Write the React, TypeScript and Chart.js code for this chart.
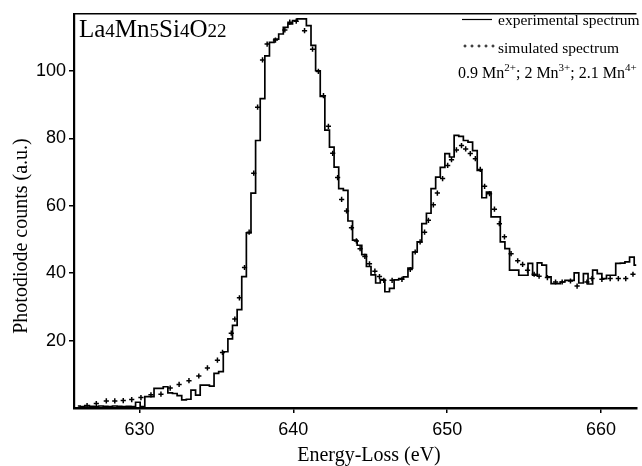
import React, { useEffect, useRef } from 'react';
import { Chart, registerables } from 'chart.js';

Chart.register(...registerables);

// Experimental spectrum: bin centres (eV) and counts
const energies = [
  626.0, 626.3, 626.6, 626.9, 627.2, 627.5, 627.8, 628.1, 628.4, 628.7,
  629.0, 629.3, 629.6, 629.9, 630.2, 630.5, 630.8, 631.1, 631.4, 631.7,
  632.0, 632.3, 632.6, 632.9, 633.2, 633.5, 633.8, 634.1, 634.4, 634.7,
  635.0, 635.3, 635.6, 635.9, 636.2, 636.5, 636.8, 637.1, 637.4, 637.7,
  638.0, 638.3, 638.6, 638.9, 639.2, 639.5, 639.8, 640.1, 640.4, 640.7,
  641.0, 641.3, 641.6, 641.9, 642.2, 642.5, 642.8, 643.1, 643.4, 643.7,
  644.0, 644.3, 644.6, 644.9, 645.2, 645.5, 645.8, 646.1, 646.4, 646.7,
  647.0, 647.3, 647.6, 647.9, 648.2, 648.5, 648.8, 649.1, 649.4, 649.7,
  650.0, 650.3, 650.6, 650.9, 651.2, 651.5, 651.8, 652.1, 652.4, 652.7,
  653.0, 653.3, 653.6, 653.9, 654.2, 654.5, 654.8, 655.1, 655.4, 655.7,
  656.0, 656.3, 656.6, 656.9, 657.2, 657.5, 657.8, 658.1, 658.4, 658.7,
  659.0, 659.3, 659.6, 659.9, 660.2, 660.5, 660.8, 661.1, 661.4, 661.7,
  662.0, 662.3,
];
const experimental = [
  0.6, 0.4, 0.7, 0.5, 0.4, 0.6, 0.5, 0.4, 0.6, 0.5,
  0.4, 0.5, 0.4, 1.7, 0.4, 3.4, 3.4, 5.8, 5.8, 6.3,
  4.5, 4.3, 3.7, 2.4, 2.6, 5.3, 3.8, 6.8, 6.8, 6.5,
  10.3, 10.8, 16.7, 20.5, 24.5, 29.2, 39.0, 52.0, 63.8, 79.4,
  91.8, 104.5, 108.5, 109.5, 111.0, 113.0, 114.0, 115.0, 115.5, 115.5,
  113.5, 107.6, 100.1, 92.5, 82.5, 77.4, 71.5, 65.1, 64.6, 55.5,
  49.8, 48.3, 45.5, 42.0, 39.5, 37.1, 38.1, 34.5, 35.5, 38.0,
  38.4, 38.9, 41.5, 46.3, 49.3, 54.7, 57.8, 65.1, 68.5, 71.4,
  75.5, 74.5, 80.9, 80.6, 79.4, 78.9, 76.4, 70.5, 62.4, 64.1,
  56.7, 56.7, 49.3, 47.3, 40.9, 40.9, 39.4, 39.4, 42.9, 39.4,
  43.1, 42.4, 38.9, 36.9, 36.9, 37.4, 37.9, 37.9, 40.1, 37.1,
  39.9, 36.8, 40.9, 39.9, 38.4, 39.4, 39.4, 42.9, 43.0, 43.4,
  44.8, 42.4,
];

// Simulated spectrum: marker energies (eV) and counts
const simEnergies = [
  626.6, 627.2, 627.85, 628.4, 628.95, 629.5, 630.1, 630.75, 631.4, 632.0,
  632.58, 633.22, 633.86, 634.42, 635.07, 635.4, 635.97, 636.2, 636.5, 636.83,
  637.13, 637.43, 637.68, 638.0, 638.3, 638.84, 639.45, 639.77, 640.19, 640.73,
  641.25, 641.63, 641.96, 642.28, 642.56, 642.88, 643.14, 643.46, 643.78, 644.1,
  644.34, 644.65, 644.95, 645.3, 645.6, 645.88, 646.42, 647.06, 647.6, 647.92,
  648.24, 648.53, 648.78, 649.1, 649.36, 649.7, 650.03, 650.28, 650.6, 650.93,
  651.2, 651.5, 651.83, 652.15, 652.43, 652.75, 653.07, 653.39, 653.72, 654.15,
  654.58, 654.9, 655.22, 655.65, 655.97, 656.51, 657.04, 657.47, 658.01, 658.44,
  659.08, 659.41, 660.05, 660.59, 661.12, 661.6, 662.07,
];
const simulated = [
  0.7, 1.3, 2.1, 2.1, 2.2, 2.5, 3.1, 3.9, 4.1, 5.9,
  7.0, 8.1, 9.5, 11.9, 14.2, 16.5, 22.2, 26.4, 32.7, 41.7,
  52.2, 69.7, 89.3, 103.3, 108.0, 109.2, 112.2, 114.5, 114.8, 112.0,
  106.5, 99.9, 92.7, 83.6, 75.6, 68.4, 61.9, 58.5, 53.5, 49.6,
  47.3, 45.0, 42.8, 40.6, 39.0, 37.9, 37.9, 38.2, 41.1, 46.3,
  49.3, 52.2, 55.7, 60.3, 63.8, 68.1, 72.0, 73.7, 76.6, 77.9,
  76.9, 75.5, 74.0, 70.8, 65.8, 63.6, 59.0, 54.7, 50.8, 45.8,
  43.7, 42.6, 40.9, 39.7, 39.1, 38.7, 37.4, 37.4, 37.7, 36.2,
  37.4, 38.4, 38.2, 38.4, 38.4, 38.4, 39.7,
];

const xTicks = [630, 640, 650, 660];
const yTicks = [20, 40, 60, 80, 100];
const xTitle = 'Energy-Loss (eV)';
const yTitle = 'Photodiode counts (a.u.)';
const legendExp = 'experimental spectrum';
const legendSim = 'simulated spectrum';

const SERIF = '"Liberation Serif", "Times New Roman", serif';
const SANS = '"Liberation Sans", Arial, sans-serif';

type Seg = { t: string; size: number; dy?: number };

function drawRich(ctx: CanvasRenderingContext2D, segs: Seg[], x: number, y: number) {
  let cx = x;
  for (const s of segs) {
    ctx.font = `${s.size}px ${SERIF}`;
    ctx.fillText(s.t, cx, y + (s.dy || 0));
    cx += ctx.measureText(s.t).width;
  }
}

export default function App() {
  const ref = useRef<HTMLCanvasElement>(null);

  useEffect(() => {
    const canvas = ref.current;
    if (!canvas) return;

    const overlay = {
      id: 'overlay',
      afterDraw(chart: any) {
        const { ctx, chartArea } = chart;
        const { left, right, top } = chartArea;
        ctx.save();
        ctx.strokeStyle = '#000';
        ctx.fillStyle = '#000';
        // top frame
        ctx.lineWidth = 1.5;
        ctx.beginPath();
        ctx.moveTo(left, top);
        ctx.lineTo(right, top);
        ctx.stroke();

        ctx.textBaseline = 'alphabetic';
        ctx.textAlign = 'left';
        // sample name
        drawRich(ctx, [
          { t: 'La', size: 25 }, { t: '4', size: 19 }, { t: 'Mn', size: 25 }, { t: '5', size: 19 },
          { t: 'Si', size: 25 }, { t: '4', size: 19 }, { t: 'O', size: 25 }, { t: '22', size: 19 },
        ], 79, 37);

        // legend row 1
        ctx.lineWidth = 1.2;
        ctx.beginPath();
        ctx.moveTo(462, 19.5);
        ctx.lineTo(492, 19.5);
        ctx.stroke();
        ctx.font = `15.5px ${SERIF}`;
        ctx.fillText(legendExp, 498, 25);
        // legend row 2
        ctx.lineWidth = 1;
        for (let i = 0; i < 5; i++) {
          const px = 465 + i * 7;
          ctx.beginPath();
          ctx.moveTo(px - 1.5, 46);
          ctx.lineTo(px + 1.5, 46);
          ctx.moveTo(px, 44.5);
          ctx.lineTo(px, 47.5);
          ctx.stroke();
        }
        ctx.font = `15.5px ${SERIF}`;
        ctx.fillText(legendSim, 498, 53);
        // legend row 3
        drawRich(ctx, [
          { t: '0.9 Mn', size: 16 }, { t: '2+', size: 11, dy: -7 },
          { t: '; 2 Mn', size: 16 }, { t: '3+', size: 11, dy: -7 },
          { t: '; 2.1 Mn', size: 16 }, { t: '4+', size: 11, dy: -7 },
        ], 458, 78);

        // axis titles
        ctx.font = `20px ${SERIF}`;
        ctx.textAlign = 'center';
        ctx.fillText(xTitle, 369, 461);
        ctx.save();
        ctx.translate(27, 236);
        ctx.rotate(-Math.PI / 2);
        ctx.fillText(yTitle, 0, 0);
        ctx.restore();
        ctx.restore();
      },
    };

    const chart = new Chart(canvas, {
      type: 'line',
      data: {
        datasets: [
          {
            label: legendExp,
            data: energies.map((x, i) => ({ x, y: experimental[i] })),
            borderColor: '#000',
            borderWidth: 1.7,
            stepped: 'middle',
            pointRadius: 0,
            fill: false,
          },
          {
            label: legendSim,
            data: simEnergies.map((x, i) => ({ x, y: simulated[i] })),
            showLine: false,
            pointStyle: 'cross',
            pointRadius: 2.6,
            borderColor: '#000',
            backgroundColor: '#000',
            pointBorderWidth: 1.5,
          },
        ],
      },
      options: {
        responsive: false,
        animation: false,
        devicePixelRatio: 1,
        layout: { padding: { top: 13, right: 0, left: 0, bottom: 0 } },
        plugins: {
          legend: { display: false },
          tooltip: { enabled: false },
          title: { display: false },
        },
        scales: {
          x: {
            type: 'linear',
            min: 625.75,
            max: 662.3,
            afterFit: (scale: any) => { scale.height = 58; },
            afterBuildTicks: (scale: any) => { scale.ticks = xTicks.map((v) => ({ value: v })); },
            ticks: {
              color: '#000',
              font: { family: SANS, size: 18 },
              padding: 6,
              maxRotation: 0,
              autoSkip: false,
              callback: (v: any) => String(v),
            },
            grid: { display: true, drawOnChartArea: false, drawTicks: true, tickLength: 5, color: '#000', lineWidth: 1.5 },
            border: { display: true, color: '#000', width: 2.5 },
          },
          y: {
            type: 'linear',
            min: 0,
            max: 117,
            afterFit: (scale: any) => { scale.width = 74; },
            afterBuildTicks: (scale: any) => { scale.ticks = yTicks.map((v) => ({ value: v })); },
            ticks: {
              color: '#000',
              font: { family: SANS, size: 18 },
              padding: 3,
              autoSkip: false,
              callback: (v: any) => String(v),
            },
            grid: { display: true, drawOnChartArea: false, drawTicks: true, tickLength: 5, color: '#000', lineWidth: 1.5 },
            border: { display: true, color: '#000', width: 2.2 },
          },
        },
      },
      plugins: [overlay],
    } as any);

    return () => chart.destroy();
  }, []);

  return (
    <div style={{ position: 'absolute', left: 0, top: 0, width: 642, height: 466, background: '#fff' }}>
      <canvas ref={ref} width={642} height={466} style={{ display: 'block' }} />
    </div>
  );
}
